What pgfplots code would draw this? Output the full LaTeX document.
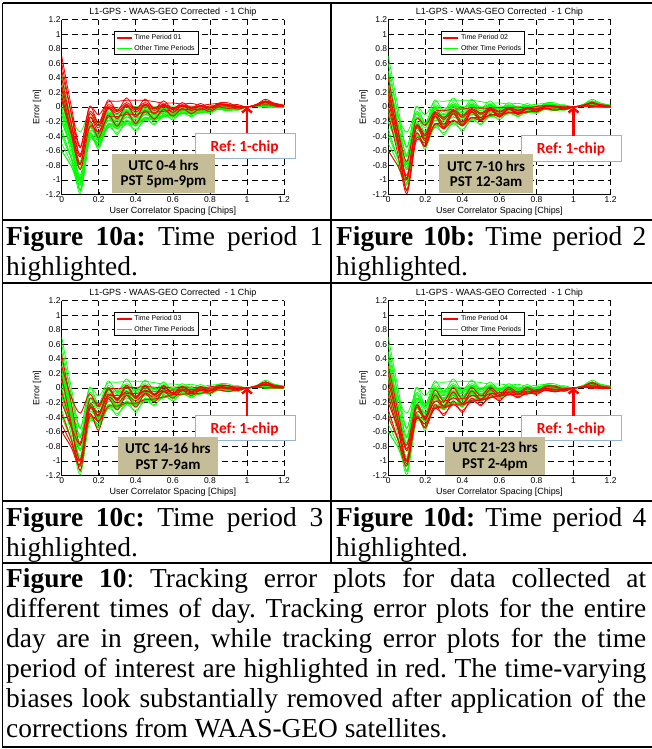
\documentclass[border=0pt]{standalone}
\usepackage{fontspec}
\setmainfont{Liberation Serif}
\newfontfamily\arialfont{Liberation Sans}
\newfontfamily\calfont{Carlito}
\usepackage{pgfplots}
\pgfplotsset{compat=1.18}
\usepackage{pgfplotstable}
\usetikzlibrary{arrows.meta}
\definecolor{boxtan}{HTML}{C4BD97}
\definecolor{refblue}{HTML}{95B3D7}
\definecolor{mgreen}{rgb}{0,1,0}
\definecolor{mred}{rgb}{1,0,0}
\frenchspacing

% Period 1 (UTC 0-4)
\pgfplotstableread{
x c1 c2 c3 c4 c5 c6 c7 c8
0.00 0.70 0.60 0.50 0.40 0.30 0.25 0.15 0.10
0.05 0.030 -0.068 -0.070 -0.212 -0.210 -0.318 -0.316 -0.364
0.10 -0.546 -0.672 -0.558 -0.784 -0.650 -0.858 -0.684 -0.792
0.15 0.010 -0.102 -0.010 -0.148 -0.070 -0.272 -0.194 -0.156
0.20 -0.219 -0.256 -0.107 -0.348 -0.220 -0.345 -0.422 -0.287
0.25 0.096 0.004 0.068 -0.008 0.030 -0.140 -0.112 -0.022
0.30 -0.054 -0.066 0.078 -0.158 -0.040 -0.130 -0.262 -0.092
0.35 0.124 0.036 0.092 0.028 0.060 -0.100 -0.068 0.012
0.40 -0.036 -0.044 0.092 -0.132 -0.020 -0.100 -0.228 -0.068
0.45 0.110 0.040 0.090 0.030 0.060 -0.070 -0.050 0.020
0.50 -0.022 -0.028 0.074 -0.094 -0.010 -0.070 -0.166 -0.046
0.55 0.084 0.026 0.052 0.028 0.040 -0.060 -0.028 0.012
0.60 -0.028 -0.022 0.056 -0.076 -0.010 -0.040 -0.124 -0.034
0.65 0.060 0.020 0.040 0.020 0.030 -0.040 -0.020 0.010
0.70 -0.010 -0.010 0.050 -0.050 0.000 -0.030 -0.090 -0.020
0.75 0.048 0.012 0.024 0.016 0.020 -0.040 -0.016 0.004
0.80 -0.014 -0.006 0.038 -0.038 0.000 -0.010 -0.062 -0.012
0.85 0.056 0.034 0.048 0.032 0.040 0.000 0.008 0.028
0.90 0.056 0.024 0.028 0.032 0.030 -0.020 0.008 0.018
0.95 0.004 0.006 0.032 -0.012 0.010 0.000 -0.028 0.002
1.00 0 0 0 0 0 0 0 0
1.05 0.032 0.028 0.036 0.024 0.030 0.020 0.016 0.026
1.10 0.106 0.074 0.078 0.082 0.080 0.030 0.058 0.068
1.15 0.044 0.036 0.052 0.028 0.040 0.020 0.012 0.032
1.20 0.022 0.018 0.026 0.014 0.020 0.010 0.006 0.016
}\tabA

% Period 2 (UTC 7-10)
\pgfplotstableread{
x c1 c2 c3 c4 c5 c6 c7 c8
0.00 0.40 0.30 0.20 0.10 0.00 -0.10 0.15 -0.60
0.05 -0.278 -0.398 -0.298 -0.502 -0.474 -0.628 -0.414 -0.799
0.10 -0.974 -1.150 -0.746 -1.142 -0.938 -1.190 -0.994 -0.989
0.15 -0.262 -0.372 -0.172 -0.438 -0.256 -0.472 -0.286 -0.296
0.20 -0.374 -0.528 -0.252 -0.540 -0.436 -0.494 -0.395 -0.465
0.25 -0.074 -0.138 -0.062 -0.230 -0.086 -0.244 -0.100 -0.125
0.30 -0.144 -0.288 -0.052 -0.300 -0.236 -0.234 -0.170 -0.275
0.35 -0.036 -0.092 -0.028 -0.180 -0.044 -0.196 -0.060 -0.080
0.40 -0.116 -0.252 -0.028 -0.260 -0.204 -0.196 -0.140 -0.240
0.45 -0.020 -0.070 -0.010 -0.140 -0.030 -0.150 -0.040 -0.060
0.50 -0.082 -0.184 -0.016 -0.190 -0.148 -0.142 -0.100 -0.175
0.55 -0.016 -0.042 -0.018 -0.100 -0.014 -0.116 -0.030 -0.035
0.60 -0.058 -0.136 -0.004 -0.130 -0.112 -0.088 -0.070 -0.130
0.65 -0.010 -0.030 -0.010 -0.070 -0.010 -0.080 -0.020 -0.025
0.70 -0.040 -0.100 0.000 -0.100 -0.080 -0.070 -0.050 -0.095
0.75 -0.012 -0.024 -0.016 -0.060 -0.008 -0.072 -0.020 -0.020
0.80 -0.024 -0.068 0.008 -0.060 -0.056 -0.034 -0.030 -0.065
0.85 0.016 0.002 0.018 -0.020 0.014 -0.024 0.010 0.005
0.90 0.006 0.002 -0.002 -0.030 0.014 -0.044 0.000 0.005
0.95 -0.006 -0.032 0.012 -0.030 -0.024 -0.016 -0.010 -0.030
1.00 0 0 0 0 0 0 0 0
1.05 0.022 0.014 0.026 0.010 0.018 0.012 0.020 0.015
1.10 0.056 0.052 0.048 0.020 0.064 0.006 0.050 0.055
1.15 0.024 0.008 0.032 0.000 0.016 0.004 0.020 0.010
1.20 0.012 0.004 0.016 0.000 0.008 0.002 0.010 0.005
}\tabB

% Period 3 (UTC 14-16)
\pgfplotstableread{
x c1 c2 c3 c4 c5 c6 c7 c8
0.00 0.45 0.30 0.15 -0.05 -0.20 -0.35 -0.50 -0.60
0.05 -0.179 -0.115 -0.463 -0.510 -0.521 -0.691 -0.755 -0.805
0.10 -0.781 -0.345 -1.129 -0.986 -0.755 -1.069 -0.993 -1.039
0.15 -0.156 -0.080 -0.362 -0.290 -0.244 -0.294 -0.400 -0.230
0.20 -0.228 -0.260 -0.580 -0.334 -0.461 -0.382 -0.457 -0.376
0.25 -0.023 0.005 -0.139 -0.114 -0.151 -0.087 -0.257 -0.021
0.30 -0.013 -0.145 -0.209 -0.104 -0.301 -0.157 -0.247 -0.171
0.35 0.008 0.040 -0.096 -0.076 -0.104 -0.048 -0.208 0.016
0.40 0.008 -0.120 -0.176 -0.076 -0.264 -0.128 -0.208 -0.144
0.45 0.020 0.040 -0.070 -0.050 -0.080 -0.030 -0.160 0.020
0.50 0.011 -0.085 -0.127 -0.052 -0.193 -0.091 -0.151 -0.103
0.55 0.003 0.035 -0.051 -0.046 -0.049 -0.023 -0.123 0.021
0.60 0.014 -0.070 -0.088 -0.028 -0.142 -0.064 -0.094 -0.082
0.65 0.005 0.025 -0.035 -0.030 -0.035 -0.015 -0.085 0.015
0.70 0.015 -0.045 -0.065 -0.020 -0.105 -0.045 -0.075 -0.055
0.75 -0.004 0.020 -0.032 -0.032 -0.028 -0.016 -0.076 0.012
0.80 0.017 -0.035 -0.039 -0.004 -0.071 -0.027 -0.037 -0.041
0.85 0.027 0.035 0.001 0.006 -0.001 0.013 -0.027 0.029
0.90 0.007 0.035 -0.009 -0.014 -0.001 0.003 -0.047 0.029
0.95 0.018 -0.010 -0.016 0.004 -0.034 -0.008 -0.018 -0.014
1.00 0 0 0 0 0 0 0 0
1.05 0.029 0.025 0.017 0.022 0.013 0.021 0.011 0.023
1.10 0.057 0.085 0.041 0.036 0.049 0.053 0.003 0.079
1.15 0.038 0.030 0.014 0.024 0.006 0.022 0.002 0.026
1.20 0.019 0.015 0.007 0.012 0.003 0.011 0.001 0.013
}\tabC

% Period 4 (UTC 21-23)
\pgfplotstableread{
x c1 c2 c3 c4 c5 c6 c7 c8
0.00 0.30 0.20 0.10 0.00 -0.10 -0.20 -0.30 -0.40
0.05 -0.289 -0.406 -0.414 -0.502 -0.557 -0.528 -0.685 -0.694
0.10 -0.835 -1.006 -0.862 -1.038 -0.999 -0.780 -1.071 -0.982
0.15 -0.236 -0.424 -0.386 -0.248 -0.428 -0.272 -0.410 -0.346
0.20 -0.439 -0.490 -0.542 -0.404 -0.493 -0.423 -0.550 -0.397
0.25 -0.099 -0.270 -0.282 -0.034 -0.283 -0.178 -0.229 -0.192
0.30 -0.249 -0.260 -0.352 -0.184 -0.273 -0.248 -0.379 -0.182
0.35 -0.056 -0.220 -0.228 0.004 -0.232 -0.132 -0.176 -0.148
0.40 -0.216 -0.220 -0.308 -0.156 -0.232 -0.212 -0.336 -0.148
0.45 -0.040 -0.170 -0.180 0.010 -0.180 -0.100 -0.140 -0.110
0.50 -0.157 -0.160 -0.226 -0.112 -0.169 -0.154 -0.247 -0.106
0.55 -0.021 -0.130 -0.128 0.014 -0.137 -0.072 -0.091 -0.088
0.60 -0.118 -0.100 -0.154 -0.088 -0.106 -0.106 -0.178 -0.064
0.65 -0.015 -0.090 -0.090 0.010 -0.095 -0.050 -0.065 -0.060
0.70 -0.085 -0.080 -0.120 -0.060 -0.085 -0.080 -0.135 -0.050
0.75 -0.012 -0.080 -0.076 0.008 -0.084 -0.044 -0.052 -0.056
0.80 -0.059 -0.040 -0.072 -0.044 -0.043 -0.048 -0.089 -0.022
0.85 0.011 -0.030 -0.032 0.026 -0.033 -0.008 -0.019 -0.012
0.90 0.011 -0.050 -0.042 0.026 -0.053 -0.018 -0.019 -0.032
0.95 -0.026 -0.020 -0.038 -0.016 -0.022 -0.022 -0.046 -0.008
1.00 0 0 0 0 0 0 0 0
1.05 0.017 0.010 0.006 0.022 0.009 0.014 0.007 0.016
1.10 0.061 0.000 0.008 0.076 -0.003 0.032 0.031 0.018
1.15 0.014 0.000 -0.008 0.024 -0.002 0.008 -0.006 0.012
1.20 0.007 0.000 -0.004 0.012 -0.001 0.004 -0.003 0.006
}\tabD

\newcommand\tickfont{\arialfont\fontsize{8.5}{9}\selectfont}
\newcommand\titlefont{\arialfont\fontsize{9}{10}\selectfont}
\newcommand\capfont{\fontsize{27.5}{30}\selectfont}
\newcommand\boxfont{\calfont\bfseries\fontsize{15}{15.5}\selectfont}
\newcommand\reffont{\calfont\bfseries\fontsize{15.5}{16}\selectfont}

\pgfplotsset{
  panel/.style={
    scale only axis, width=222.3bp, height=175bp,
    xmin=0, xmax=1.2, ymin=-1.2, ymax=1.2,
    xtick={0,0.2,0.4,0.6,0.8,1,1.2},
    xticklabels={0,0.2,0.4,0.6,0.8,1,1.2},
    ytick={-1.2,-1,-0.8,-0.6,-0.4,-0.2,0,0.2,0.4,0.6,0.8,1,1.2},
    yticklabels={-1.2,-1,-0.8,-0.6,-0.4,-0.2,0,0.2,0.4,0.6,0.8,1,1.2},
    axis x line*=bottom, axis y line*=left,
    axis line style={-, black, line width=0.6bp},
    xmajorgrids, ymajorgrids,
    major grid style={black, line width=0.7bp, dash pattern=on 6bp off 4bp},
    tick align=inside, major tick length=2.5bp,
    every tick/.style={black, line width=0.5bp},
    tick label style={font=\tickfont, inner sep=1bp},
    xticklabel style={yshift=-1bp},
    title={L1-GPS - WAAS-GEO Corrected\ \ - 1 Chip},
    title style={font=\titlefont, at={(axis description cs:0.5,1)}, anchor=base, yshift=-0.5bp, inner sep=0},
    xlabel={User Correlator Spacing [Chips]},
    ylabel={Error [m]},
    label style={font=\titlefont},
    xlabel style={at={(axis description cs:0.5,-0.095)}, anchor=center, inner sep=0},
    ylabel style={at={(axis description cs:-0.111,0.5)}, anchor=center, inner sep=0},
    clip mode=individual,
    legend style={at={(axis description cs:0.235,0.932)}, anchor=north west,
      draw=black, line width=0.6bp, fill=white,
      font=\arialfont\fontsize{7}{8}\selectfont,
      inner xsep=1.5bp, inner ysep=1bp, row sep=0bp, cells={anchor=west}},
    legend image code/.code={\draw[##1, line width=1.7bp] (0bp,0bp) -- (15bp,0bp);},
    every axis plot/.append style={smooth, line width=0.7bp},
  },
  redplot/.style={mred, line width=0.85bp, forget plot},
  greenplot/.style={mgreen, line width=0.7bp, forget plot},
}

\begin{document}
\begin{tikzpicture}[x=1bp,y=1bp]
\useasboundingbox (0bp,0bp) rectangle (652bp,-749bp);

% ---------- Panel a ----------
\begin{axis}[panel, at={(61.7bp,-194.5bp)}, anchor=south west]
\pgfplotsinvokeforeach{1,...,8}{\addplot[greenplot] table[x=x, y=c#1]{\tabB};}
\pgfplotsinvokeforeach{1,...,8}{\addplot[greenplot] table[x=x, y=c#1]{\tabC};}
\pgfplotsinvokeforeach{1,...,8}{\addplot[greenplot] table[x=x, y=c#1]{\tabD};}
\pgfplotsinvokeforeach{1,...,8}{\addplot[redplot] table[x=x, y=c#1]{\tabA};}
\addlegendimage{mred}\addlegendentry{Time Period 01}
\addlegendimage{mgreen}\addlegendentry{Other Time Periods}
\draw[refblue, line width=0.8bp, fill=white] (rel axis cs:0.6,0.205) rectangle (rel axis cs:1.05,0.35);
\node[text=mred, font=\reffont] at (rel axis cs:0.823,0.272) {Ref: 1-chip};
\draw[mred, line width=2.4bp, -{Straight Barb[length=4bp,width=10bp]}] (axis cs:1,-0.36) -- (axis cs:1,0);
\fill[boxtan] (rel axis cs:0.226,0.011) rectangle (rel axis cs:0.69,0.23);
\node[align=center, font=\boxfont] at (rel axis cs:0.458,0.118) {UTC 0-4 hrs\\PST 5pm-9pm};
\end{axis}

% ---------- Panel b ----------
\begin{axis}[panel, at={(388.3bp,-194.5bp)}, anchor=south west]
\pgfplotsinvokeforeach{1,...,8}{\addplot[greenplot] table[x=x, y=c#1]{\tabA};}
\pgfplotsinvokeforeach{1,...,8}{\addplot[greenplot] table[x=x, y=c#1]{\tabC};}
\pgfplotsinvokeforeach{1,...,8}{\addplot[greenplot] table[x=x, y=c#1]{\tabD};}
\pgfplotsinvokeforeach{1,...,8}{\addplot[redplot] table[x=x, y=c#1]{\tabB};}
\addlegendimage{mred}\addlegendentry{Time Period 02}
\addlegendimage{mgreen}\addlegendentry{Other Time Periods}
\draw[refblue, line width=0.8bp, fill=white] (rel axis cs:0.597,0.19) rectangle (rel axis cs:1.047,0.335);
\node[text=mred, font=\reffont] at (rel axis cs:0.822,0.258) {Ref: 1-chip};
\draw[mred, line width=2.4bp, -{Straight Barb[length=4bp,width=10bp]}] (axis cs:1,-0.396) -- (axis cs:1,0);
\fill[boxtan] (rel axis cs:0.228,0.011) rectangle (rel axis cs:0.651,0.23);
\node[align=center, font=\boxfont] at (rel axis cs:0.44,0.118) {UTC 7-10 hrs\\PST 12-3am};
\end{axis}

% ---------- Panel c ----------
\begin{axis}[panel, at={(61.7bp,-475.5bp)}, anchor=south west]
\pgfplotsinvokeforeach{1,...,8}{\addplot[greenplot] table[x=x, y=c#1]{\tabA};}
\pgfplotsinvokeforeach{1,...,8}{\addplot[greenplot] table[x=x, y=c#1]{\tabB};}
\pgfplotsinvokeforeach{1,...,8}{\addplot[greenplot] table[x=x, y=c#1]{\tabD};}
\pgfplotsinvokeforeach{1,...,8}{\addplot[redplot] table[x=x, y=c#1]{\tabC};}
\addlegendimage{mred}\addlegendentry{Time Period 03}
\addlegendimage{mgreen}\addlegendentry{Other Time Periods}
\draw[refblue, line width=0.8bp, fill=white] (rel axis cs:0.6,0.199) rectangle (rel axis cs:1.05,0.341);
\node[text=mred, font=\reffont] at (rel axis cs:0.823,0.266) {Ref: 1-chip};
\draw[mred, line width=2.4bp, -{Straight Barb[length=4bp,width=10bp]}] (axis cs:1,-0.382) -- (axis cs:1,0);
\fill[boxtan] (rel axis cs:0.253,0.004) rectangle (rel axis cs:0.703,0.222);
\node[align=center, font=\boxfont] at (rel axis cs:0.478,0.11) {UTC 14-16 hrs\\PST 7-9am};
\end{axis}

% ---------- Panel d ----------
\begin{axis}[panel, at={(388.3bp,-475.5bp)}, anchor=south west]
\pgfplotsinvokeforeach{1,...,8}{\addplot[greenplot] table[x=x, y=c#1]{\tabA};}
\pgfplotsinvokeforeach{1,...,8}{\addplot[greenplot] table[x=x, y=c#1]{\tabB};}
\pgfplotsinvokeforeach{1,...,8}{\addplot[greenplot] table[x=x, y=c#1]{\tabC};}
\pgfplotsinvokeforeach{1,...,8}{\addplot[redplot] table[x=x, y=c#1]{\tabD};}
\addlegendimage{mred}\addlegendentry{Time Period 04}
\addlegendimage{mgreen}\addlegendentry{Other Time Periods}
\draw[refblue, line width=0.8bp, fill=white] (rel axis cs:0.597,0.199) rectangle (rel axis cs:1.047,0.341);
\node[text=mred, font=\reffont] at (rel axis cs:0.822,0.266) {Ref: 1-chip};
\draw[mred, line width=2.4bp, -{Straight Barb[length=4bp,width=10bp]}] (axis cs:1,-0.382) -- (axis cs:1,0);
\fill[boxtan] (rel axis cs:0.255,0.004) rectangle (rel axis cs:0.705,0.222);
\node[align=center, font=\boxfont] at (rel axis cs:0.48,0.11) {UTC 21-23 hrs\\PST 2-4pm};
\end{axis}

% ---------- table rules ----------
\begin{scope}[line width=1.8bp, black]
\draw (2.5bp,-3bp) -- (652bp,-3bp);
\draw (2.5bp,-3bp) -- (2.5bp,-747bp) -- (652bp,-747bp);
\draw (331bp,-3bp) -- (331bp,-563bp);
\draw (2.5bp,-220bp) -- (652bp,-220bp);
\draw (2.5bp,-283bp) -- (652bp,-283bp);
\draw (2.5bp,-501bp) -- (652bp,-501bp);
\draw (2.5bp,-563bp) -- (652bp,-563bp);
\end{scope}

% ---------- captions ----------
\begin{scope}[every node/.style={anchor=base west, inner sep=0, font=\capfont}]
\node at (6bp,-245bp) {\makebox[317bp][s]{\textbf{Figure 10a:} Time period 1}};
\node at (6bp,-275bp) {highlighted.};
\node at (336bp,-245bp) {\makebox[310bp][s]{\textbf{Figure 10b:} Time period 2}};
\node at (336bp,-275bp) {highlighted.};
\node at (6bp,-526bp) {\makebox[317bp][s]{\textbf{Figure 10c:} Time period 3}};
\node at (6bp,-556bp) {highlighted.};
\node at (336bp,-526bp) {\makebox[310bp][s]{\textbf{Figure 10d:} Time period 4}};
\node at (336bp,-556bp) {highlighted.};
\node at (6bp,-587bp) {\makebox[640bp][s]{\textbf{Figure 10}: Tracking error plots for data collected at}};
\node at (6bp,-617bp) {\makebox[640bp][s]{different times of day. Tracking error plots for the entire}};
\node at (6bp,-647bp) {\makebox[640bp][s]{day are in green, while tracking error plots for the time}};
\node at (6bp,-677bp) {\makebox[640bp][s]{period of interest are highlighted in red. The time-varying}};
\node at (6bp,-707bp) {\makebox[640bp][s]{biases look substantially removed after application of the}};
\node at (6bp,-737bp) {corrections from WAAS-GEO satellites.};
\end{scope}
\end{tikzpicture}
\end{document}
